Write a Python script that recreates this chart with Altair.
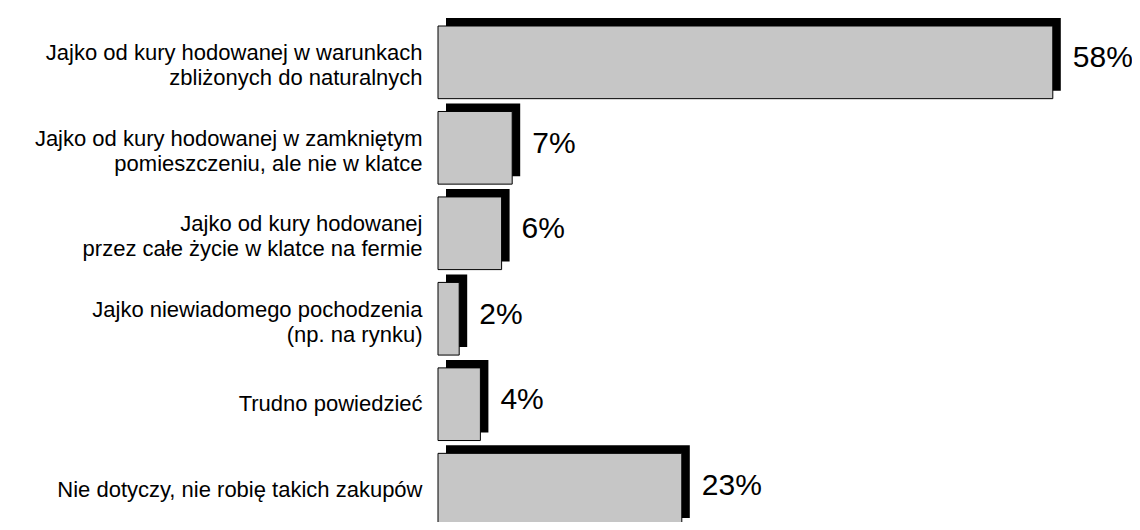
import altair as alt
import pandas as pd

categories = [
    "Jajko od kury hodowanej w warunkach\nzbliżonych do naturalnych",
    "Jajko od kury hodowanej w zamkniętym\npomieszczeniu, ale nie w klatce",
    "Jajko od kury hodowanej\nprzez całe życie w klatce na fermie",
    "Jajko niewiadomego pochodzenia\n(np. na rynku)",
    "Trudno powiedzieć",
    "Nie dotyczy, nie robię takich zakupów",
]
values = [58, 7, 6, 2, 4, 23]
value_labels = [f"{v}%" for v in values]

df = pd.DataFrame({"cat": categories, "value": values, "label": value_labels})

FONT = "Liberation Sans"
DEPTH = 8
SHIFT = 4
P_IN = 0.15
P_OUT = 0.041
HEIGHT = 507

yscale = alt.Scale(paddingInner=P_IN, paddingOuter=P_OUT, align=1)
y_enc = alt.Y(
    "cat:N",
    sort=categories,
    scale=yscale,
    axis=alt.Axis(
        title=None, domain=False, ticks=False,
        labelExpr="split(datum.value, '\\n')",
        labelFont=FONT, labelFontSize=22, labelColor="black",
        labelPadding=16, labelLineHeight=25, labelLimit=600,
        labelOffset=alt.condition("indexof(datum.value, '\\n') >= 0",
                                  alt.value(-5), alt.value(SHIFT)),
    ),
)
x_enc = alt.X("value:Q", scale=alt.Scale(domain=[0, 60]), axis=None)

base = alt.Chart(df).encode(y=y_enc, x=x_enc)

back = base.mark_bar(color="black", xOffset=DEPTH, yOffset=SHIFT - DEPTH)
front = base.mark_bar(fill="#c6c6c6", stroke="black", strokeWidth=1, yOffset=SHIFT)

text = base.mark_text(
    align="left", baseline="middle", dx=DEPTH + 12, dy=SHIFT - 4,
    font=FONT, fontSize=30, color="black",
).encode(text="label:N")

chart = alt.layer(back, front, text).properties(
    width=636, height=HEIGHT,
    autosize=alt.AutoSizeParams(type="none"),
    padding={"left": 430, "top": 7, "right": 58, "bottom": 0},
    background="white",
).configure_view(strokeWidth=0)

chart.save("out.html", embed_options={"renderer": "svg", "actions": False})
